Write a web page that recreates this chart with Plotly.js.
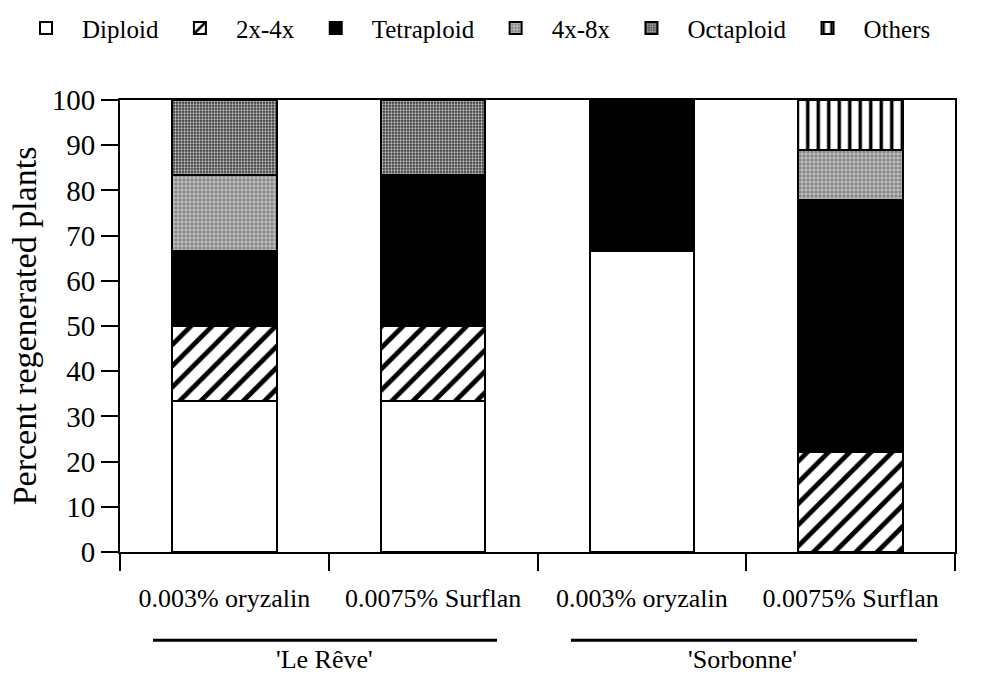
<!DOCTYPE html>
<html>
<head>
<meta charset="utf-8">
<script src="https://cdn.plot.ly/plotly-3.0.1.min.js"></script>
<style>html,body{margin:0;padding:0;background:#fff;}#chart{width:987px;height:677px;}</style>
</head>
<body>
<div id="chart"></div>
<script>
var cultivars = ["'Le Rêve'", "'Le Rêve'", "'Sorbonne'", "'Sorbonne'"];
var treatments = ["0.003% oryzalin", "0.0075% Surflan", "0.003% oryzalin", "0.0075% Surflan"];
var seriesNames = ["Diploid", "2x-4x", "Tetraploid", "4x-8x", "Octaploid", "Others"];
var diploid     = [33.3, 33.3, 66.7, 0];
var twoToFour   = [16.7, 16.7, 0, 22.2];
var tetraploid  = [16.7, 33.3, 33.3, 55.6];
var fourToEight = [16.7, 0, 0, 11.1];
var octaploid   = [16.6, 16.7, 0, 0];
var others      = [0, 0, 0, 11.1];

var values = [diploid, twoToFour, tetraploid, fourToEight, octaploid, others];
var positions = treatments.map(function (t, i) { return i; });

var patterns = [
  {shape: "", bgcolor: "#ffffff", fgcolor: "#000000"},
  {shape: "/", bgcolor: "#ffffff", fgcolor: "#000000", size: 15, solidity: 0.32},
  {shape: "", bgcolor: "#000000", fgcolor: "#000000"},
  {shape: "+", bgcolor: "#858585", fgcolor: "#e6e6e6", size: 4, solidity: 0.3},
  {shape: ".", bgcolor: "#3c3c3c", fgcolor: "#c0c0c0", size: 3, solidity: 0.45},
  {shape: "|", bgcolor: "#ffffff", fgcolor: "#000000", size: 10.5, solidity: 0.33}
];
var fills = ["#ffffff", "#ffffff", "#000000", "#858585", "#3c3c3c", "#ffffff"];

var traces = seriesNames.map(function (name, i) {
  return {
    type: "bar",
    name: name,
    x: positions,
    y: values[i],
    width: 0.5,
    marker: {
      color: fills[i],
      line: {color: "#000000", width: 2},
      pattern: patterns[i]
    },
    hoverinfo: "skip"
  };
});

// group labels from the cultivar array
var groupNames = cultivars.filter(function (c, i) { return cultivars.indexOf(c) === i; });
var annotations = groupNames.map(function (g) {
  var idx = positions.filter(function (p) { return cultivars[p] === g; });
  var mid = idx.reduce(function (a, b) { return a + b; }, 0) / idx.length;
  return {
    text: g, xref: "x", yref: "paper", x: mid - 0.02, y: -0.238,
    xanchor: "center", yanchor: "middle", showarrow: false,
    font: {family: "Liberation Serif", size: 26, color: "#000000"}
  };
});

var font = "Liberation Serif";
var layout = {
  width: 987, height: 677,
  margin: {l: 120, r: 32, t: 100, b: 125, autoexpand: false},
  paper_bgcolor: "#ffffff", plot_bgcolor: "#ffffff",
  barmode: "stack",
  font: {family: font, color: "#000000", size: 26},
  showlegend: true,
  legend: {
    orientation: "h", x: -0.1317, xanchor: "left", y: 1.159, yanchor: "middle",
    traceorder: "normal", itemwidth: 62,
    font: {family: font, size: 25, color: "#000000"},
    bgcolor: "rgba(0,0,0,0)"
  },
  xaxis: {
    range: [-0.5, 3.5],
    tickmode: "array", tickvals: positions, ticktext: treatments,
    showline: true, linecolor: "#000000", linewidth: 2, mirror: true,
    ticks: "outside", ticklen: 17, tickwidth: 2, tickcolor: "rgba(0,0,0,0)",
    ticklabelstandoff: 5,
    minor: {tick0: -0.5, dtick: 1, ticks: "outside", ticklen: 17, tickwidth: 2, tickcolor: "#000000", showgrid: false},
    showgrid: false, zeroline: false,
    tickfont: {family: font, size: 26, color: "#000000"}
  },
  yaxis: {
    range: [0, 100], dtick: 10, tick0: 0,
    showline: true, linecolor: "#000000", linewidth: 2, mirror: true,
    ticks: "outside", ticklen: 17, tickwidth: 2, tickcolor: "#000000",
    showgrid: false, zeroline: false,
    tickfont: {family: font, size: 29, color: "#000000"},
    title: {text: "Percent regenerated plants", font: {family: font, size: 34, color: "#000000"}, standoff: 5}
  },
  annotations: annotations,
  shapes: [
    {type: "line", xref: "paper", yref: "paper", x0: 0.0395, x1: 0.4515, y0: -0.195, y1: -0.195, line: {color: "#000000", width: 3}},
    {type: "line", xref: "paper", yref: "paper", x0: 0.540, x1: 0.9545, y0: -0.195, y1: -0.195, line: {color: "#000000", width: 3}}
  ]
};

Plotly.newPlot("chart", traces, layout, {displayModeBar: false, staticPlot: true});
</script>
</body>
</html>
